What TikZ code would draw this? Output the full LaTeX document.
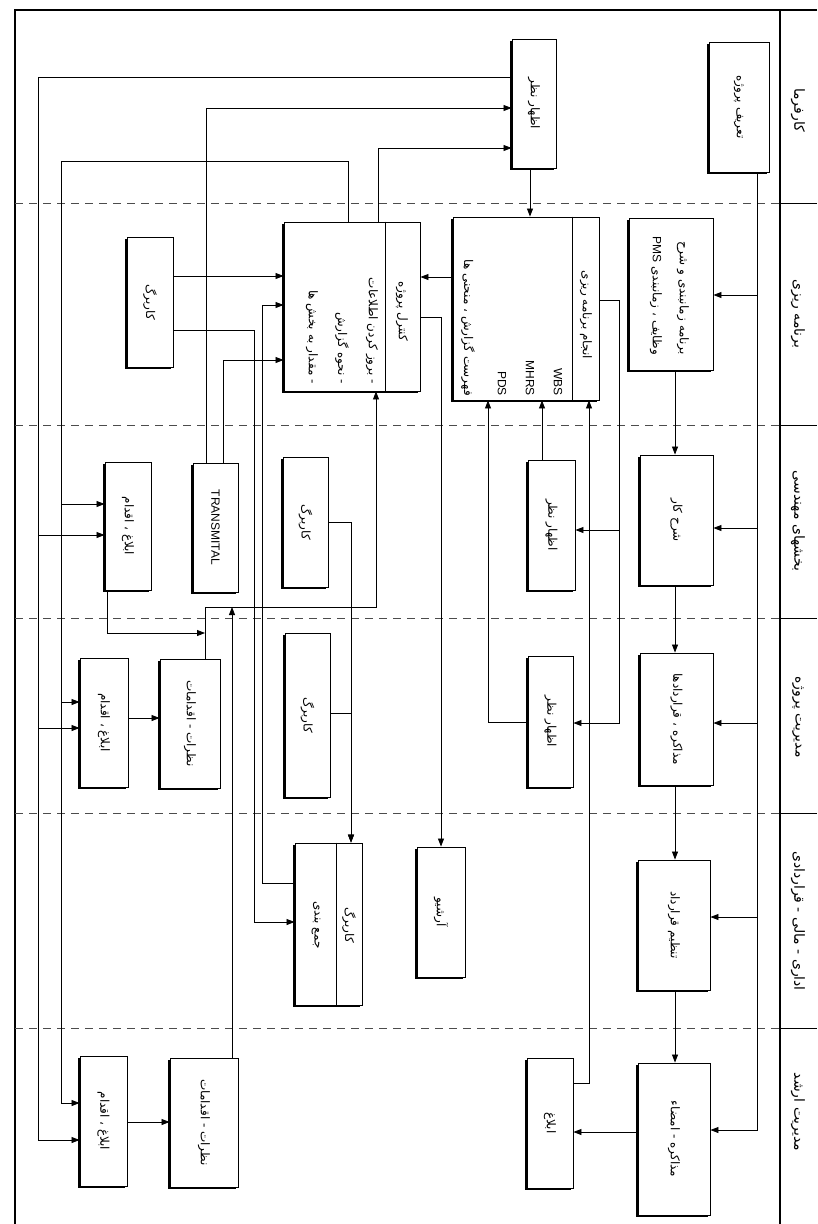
\documentclass[tikz,border=0pt]{standalone}
\usepackage{fontspec}
\setmainfont{Liberation Sans}
\newfontfamily\fa[Script=Arabic]{DejaVu Sans}
\TeXXeTstate=1
\usetikzlibrary{arrows.meta,shadows}
\newcommand\pr[1]{{\fa\beginR #1\endR}}
\newcommand\mkbox[6]{\node[box,minimum width={(#4-#2)*1pt},minimum height={(#5-#3)*1pt}] (#1) at ({(#2+#4)/2},{(#3+#5)/2}) {\rotatebox{-90}{#6}};}
\begin{document}
\begin{tikzpicture}[x=1pt,y=-1pt,
  box/.style={draw,line width=0.9pt,fill=white,inner sep=0pt,drop shadow={shadow xshift=-2pt,shadow yshift=-2pt,opacity=1,fill=black},font=\fontsize{12}{14}\selectfont},
  arr/.style={line width=0.8pt,-{Triangle[length=8pt,width=6pt]}},
  ln/.style={line width=0.8pt},
  lane/.style={dash pattern=on 8pt off 6pt,line width=0.9pt,black!70},
  frame/.style={line width=1.8pt},
  head/.style={rotate=-90,inner sep=0pt,font=\fontsize{14}{16}\selectfont},
  txt/.style={rotate=-90,inner sep=0pt,font=\fontsize{12}{14}\selectfont},
  lat/.style={rotate=-90,inner sep=0pt,font=\fontsize{12}{14}\selectfont},
]
\useasboundingbox[fill=white] (0,0) rectangle (817,1224);
% frame
\draw[frame] (817,10) -- (15,10) -- (15,1224);
\draw[frame] (780,10) -- (780,1224);
\foreach \yy in {203,425,618,813,1028}{
  \draw[lane] (15,\yy) -- (780,\yy);
  \draw[ln] (780,\yy) -- (817,\yy);
}
% headers
\node[head] (h1) at (798,110) {\pr{کارفرما}};
\node[head] (h2) at (798,314) {\pr{برنامه ریزی}};
\node[head] (h3) at (798,521) {\pr{بخشهای مهندسی}};
\node[head] (h4) at (798,717) {\pr{مدیریت پروژه}};
\node[head] (h5) at (798,921) {\pr{اداری - مالی - قراردادی}};
\node[head] (h6) at (798,1112) {\pr{مدیریت ارشد}};
% boxes
\mkbox{tp}{709}{42}{769}{172}{\pr{تعریف پروژه}}
\mkbox{ezA}{512}{39}{556}{168}{\pr{اظهار نظر}}
\mkbox{bz}{629}{218}{713}{370}{}
\node[txt,anchor=east] (bz1) at (683,355) {\pr{برنامه زمانبندی و شرح}};
\node[txt,anchor=east] (bz2) at (656,355) {\pr{وظایف ، زمانبندی \textrm{PMS}}};
\mkbox{ab}{453}{217}{599}{400}{}
\draw[ln] (ab.north -| 572,0) -- (ab.south -| 572,0);
\node[txt] (abh) at (586,315) {\pr{انجام برنامه ریزی}};
\node[lat,anchor=east] (ab1) at (558,396) {WBS};
\node[lat,anchor=east] (ab2) at (530,396) {MHRS};
\node[lat,anchor=east] (ab3) at (502,396) {PDS};
\node[txt,anchor=east] (ab4) at (468,396) {\pr{فهرست گزارش ، منحنی ها}};
\mkbox{kp}{284}{222}{420}{391}{}
\draw[ln] (kp.north -| 385,0) -- (kp.south -| 385,0);
\node[txt] (kph) at (402,311) {\pr{کنترل پروژه}};
\node[txt,anchor=east] (kp1) at (372,384) {\pr{- بروز کردن اطلاعات}};
\node[txt,anchor=east] (kp2) at (342,384) {\pr{- نحوه گزارش}};
\node[txt,anchor=east] (kp3) at (312,384) {\pr{- مقدار به بخش ها}};
\mkbox{kbA}{127}{237}{173}{367}{\pr{کاربرگ}}
\mkbox{sk}{640}{455}{713}{585}{\pr{شرح کار}}
\mkbox{ezB}{528}{460}{575}{590}{\pr{اظهار نظر}}
\mkbox{kbB}{283}{457}{328}{587}{\pr{کاربرگ}}
\mkbox{tr}{193}{463}{238}{592}{\fontsize{12}{14}\selectfont TRANSMITAL}
\mkbox{ea3}{105}{462}{151}{590}{\pr{ابلاغ ، اقدام}}
\mkbox{mq}{640}{653}{713}{785}{\pr{مذاکره ، قراردادها}}
\mkbox{ezC}{528}{656}{573}{787}{\pr{اظهار نظر}}
\mkbox{kbC}{285}{633}{330}{797}{\pr{کاربرگ}}
\mkbox{naA}{160}{659}{220}{788}{\pr{نظرات - اقدامات}}
\mkbox{ea4}{80}{658}{128}{787}{\pr{ابلاغ ، اقدام}}
\mkbox{tq}{638}{860}{710}{990}{\pr{تنظیم قرارداد}}
\mkbox{ar}{417}{847}{465}{977}{\pr{آرشیو}}
\mkbox{jb}{295}{843}{362}{1005}{}
\draw[ln] (jb.north -| 336,0) -- (jb.south -| 336,0);
\node[txt] (jbh) at (349,925) {\pr{کاربرگ}};
\node[txt] (jb1) at (316,925) {\pr{جمع بندی}};
\mkbox{ma}{638}{1063}{710}{1215}{\pr{مذاکره - امضاء}}
\mkbox{eb}{527}{1058}{573}{1188}{\pr{ابلاغ}}
\mkbox{naB}{170}{1058}{238}{1187}{\pr{نظرات - اقدامات}}
\mkbox{ea6}{80}{1056}{127}{1186}{\pr{ابلاغ ، اقدام}}
% connectors from project definition
\coordinate (tx) at (757,0);
\draw[arr] (tp.south -| tx) |- (bz.east |- 0,295);
\draw[arr] (tp.south -| tx) |- (sk.east |- 0,528);
\draw[arr] (tp.south -| tx) |- (mq.east |- 0,723);
\draw[arr] (tp.south -| tx) |- (tq.east |- 0,917);
\draw[arr] (tp.south -| tx) |- (ma.east |- 0,1130);
% main chain
\coordinate (cx) at (675,0);
\draw[arr] (bz.south -| cx) -- (sk.north -| cx);
\draw[arr] (sk.south -| cx) -- (mq.north -| cx);
\draw[arr] (mq.south -| cx) -- (tq.north -| cx);
\draw[arr] (tq.south -| cx) -- (ma.north -| cx);
% planning
\draw[arr] (ezA.south -| 530,0) -- (ab.north -| 530,0);
\draw[arr] (ab.west |- 0,277) -- (kp.east |- 0,277);
\draw[arr] (ab.east |- 0,300) -| (619,530) -- (ezB.east |- 0,530);
\draw[arr] (ab.east |- 0,300) -| (619,723) -- (ezC.east |- 0,723);
\draw[arr] (ezB.north -| 542,0) -- (ab.south -| 542,0);
\draw[arr] (ezC.west |- 0,722) -| (ab.south -| 488,0);
\draw[arr] (eb.east |- 0,1083) -| (ab.south -| 589,0);
\draw[arr] (ma.west |- 0,1132) -- (eb.east |- 0,1132);
% project control
\draw[arr] (kp.east |- 0,317) -| (ar.north);
\draw[arr] (kp.north -| 378,0) |- (ezA.west |- 0,148);
\draw[arr] (ezA.west |- 0,77) -| (38,535) -- (ea3.west |- 0,535);
\draw[arr] (ezA.west |- 0,77) -| (38,728) -- (ea4.west |- 0,728);
\draw[arr] (ezA.west |- 0,77) -| (38,1140) -- (ea6.west |- 0,1140);
\draw[arr] (kp.north -| 348,0) |- (61,161) |- (ea3.west |- 0,504);
\draw[arr] (kp.north -| 348,0) |- (61,161) |- (ea4.west |- 0,702);
\draw[arr] (kp.north -| 348,0) |- (61,161) |- (ea6.west |- 0,1103);
\draw[arr] (tr.north -| 206,0) |- (ezA.west |- 0,108);
\draw[arr] (tr.north -| 223,0) |- (kp.west |- 0,360);
\draw[arr] (kbA.east |- 0,276) -- (kp.west |- 0,276);
\draw[arr] (kbA.east |- 0,330) -| (254,922) -- (jb.west |- 0,922);
\draw[arr] (jb.west |- 0,883) -| (262,305) -- (kp.west |- 0,305);
\draw[arr] (kbB.east |- 0,522) -| (jb.north -| 351,0);
\draw[arr] (kbC.east |- 0,713) -| (jb.north -| 351,0);
\draw[arr] (naA.north -| 205,0) |- (376,607) -- (kp.south -| 376,0);
\coordinate (j1) at (205,633);
\coordinate (j2) at (232,607);
\draw[arr] (ea3.south -| 107,0) |- (j1);
\draw[arr] (naB.north -| 232,0) -- (j2);
\draw[arr] (ea4.east |- 0,718) -- (naA.west |- 0,718);
\draw[arr] (ea6.east |- 0,1122) -- (naB.west |- 0,1122);
\end{tikzpicture}
\end{document}
